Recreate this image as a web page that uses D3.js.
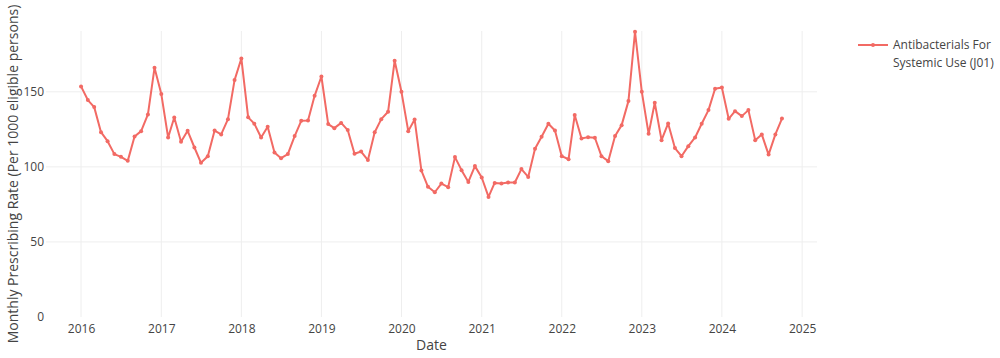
<!DOCTYPE html>
<html>
<head>
<meta charset="utf-8">
<script src="https://cdn.jsdelivr.net/npm/d3@7"></script>
<style>
  html, body { margin: 0; padding: 0; background: #fff; }
  svg { display: block; font-family: "Open Sans", "Noto Sans", sans-serif; }
</style>
</head>
<body>
<svg id="chart" width="1000" height="358"></svg>
<script>
const seriesName = "Antibacterials For Systemic Use (J01)";
const legendLines = ["Antibacterials For", "Systemic Use (J01)"];
const xTickYears = [2016, 2017, 2018, 2019, 2020, 2021, 2022, 2023, 2024, 2025];
const yTicks = [0, 50, 100, 150];
const xTitle = "Date";
const yTitle = "Monthly Prescribing Rate (Per 1000 eligible persons)";

const months = [
  "2016-01","2016-02","2016-03","2016-04","2016-05","2016-06","2016-07","2016-08","2016-09","2016-10","2016-11","2016-12",
  "2017-01","2017-02","2017-03","2017-04","2017-05","2017-06","2017-07","2017-08","2017-09","2017-10","2017-11","2017-12",
  "2018-01","2018-02","2018-03","2018-04","2018-05","2018-06","2018-07","2018-08","2018-09","2018-10","2018-11","2018-12",
  "2019-01","2019-02","2019-03","2019-04","2019-05","2019-06","2019-07","2019-08","2019-09","2019-10","2019-11","2019-12",
  "2020-01","2020-02","2020-03","2020-04","2020-05","2020-06","2020-07","2020-08","2020-09","2020-10","2020-11","2020-12",
  "2021-01","2021-02","2021-03","2021-04","2021-05","2021-06","2021-07","2021-08","2021-09","2021-10","2021-11","2021-12",
  "2022-01","2022-02","2022-03","2022-04","2022-05","2022-06","2022-07","2022-08","2022-09","2022-10","2022-11","2022-12",
  "2023-01","2023-02","2023-03","2023-04","2023-05","2023-06","2023-07","2023-08","2023-09","2023-10","2023-11","2023-12",
  "2024-01","2024-02","2024-03","2024-04","2024-05","2024-06","2024-07","2024-08","2024-09","2024-10"
];

const rates = [
  153.6, 144.5, 139.8, 123.1, 117.1, 108.5, 106.7, 104.0, 120.2, 123.8, 134.9, 166.0,
  148.5, 119.6, 132.9, 116.7, 124.0, 112.9, 102.7, 107.1, 124.2, 121.6, 131.8, 157.8,
  172.2, 133.0, 128.8, 119.6, 126.7, 109.6, 105.8, 108.5, 120.5, 130.7, 130.9, 147.3,
  160.2, 128.5, 125.8, 129.3, 124.5, 108.7, 110.2, 104.5, 123.1, 131.8, 136.7, 170.7,
  150.0, 123.8, 131.6, 97.5, 86.7, 83.1, 88.9, 86.5, 106.5, 97.8, 90.0, 100.5,
  92.9, 80.0, 89.3, 88.9, 89.6, 89.6, 98.5, 93.3, 112.0, 120.0, 128.7, 124.2,
  107.1, 105.1, 134.5, 118.9, 119.8, 119.4, 107.1, 103.8, 120.5, 127.8, 143.8, 190.0,
  150.0, 122.0, 142.7, 117.8, 128.9, 112.5, 107.1, 113.8, 119.6, 128.7, 137.8, 152.0,
  152.9, 132.0, 137.1, 133.8, 137.8, 117.8, 121.6, 108.2, 121.6, 132.2
];

const parse = d3.utcParse("%Y-%m");
const data = months.map((m, i) => ({ date: parse(m), value: rates[i] }));

const color = "#F26A64";
const gridColor = "#EEEEEE";
const textColor = "#444";

const plot = { left: 46, right: 817, top: 31, bottom: 317 };
const padFrac = 0.05;
const span = (plot.right - plot.left) / (1 + 2 * padFrac);
const pad = span * padFrac;

const svg = d3.select("#chart");

const x = d3.scaleUtc()
  .domain(d3.extent(data, d => d.date))
  .range([plot.left + pad, plot.right - pad]);

const y = d3.scaleLinear()
  .domain([0, 190.5])
  .range([plot.bottom, plot.top]);

// Grid lines
const grid = svg.append("g");
grid.selectAll("line.h").data(yTicks.filter(d => d > 0)).join("line")
  .attr("x1", plot.left).attr("x2", plot.right)
  .attr("y1", d => y(d)).attr("y2", d => y(d))
  .attr("stroke", gridColor).attr("stroke-width", 1);
grid.selectAll("line.v").data(xTickYears).join("line")
  .attr("x1", d => x(Date.UTC(d, 0, 1))).attr("x2", d => x(Date.UTC(d, 0, 1)))
  .attr("y1", plot.top).attr("y2", plot.bottom)
  .attr("stroke", gridColor).attr("stroke-width", 1);

// Axes
const xAxis = d3.axisBottom(x)
  .tickValues(xTickYears.map(yr => new Date(Date.UTC(yr, 0, 1))))
  .tickFormat(d3.utcFormat("%Y"))
  .tickSize(0).tickPadding(7);
const gx = svg.append("g").attr("transform", `translate(0,${plot.bottom})`).call(xAxis);
gx.select(".domain").remove();
gx.selectAll("text").attr("fill", textColor).style("font-size", "12px")
  .style("font-family", '"Open Sans", sans-serif');

const yAxis = d3.axisLeft(y).tickValues(yTicks).tickSize(0).tickPadding(2);
const gy = svg.append("g").attr("transform", `translate(${plot.left},0)`).call(yAxis);
gy.select(".domain").remove();
gy.selectAll("text").attr("fill", textColor).style("font-size", "12px")
  .style("font-family", '"Open Sans", sans-serif');

// Axis titles
svg.append("text")
  .attr("x", (plot.left + plot.right) / 2).attr("y", 350)
  .attr("text-anchor", "middle").attr("fill", textColor)
  .style("font-size", "14px").text(xTitle);
svg.append("text")
  .attr("transform", `translate(18,${(plot.top + plot.bottom) / 2}) rotate(-90)`)
  .attr("text-anchor", "middle").attr("fill", textColor)
  .style("font-size", "14px").text(yTitle);

// Line + markers
const line = d3.line().x(d => x(d.date)).y(d => y(d.value));
svg.append("path").datum(data)
  .attr("d", line).attr("fill", "none")
  .attr("stroke", color).attr("stroke-width", 2).attr("stroke-linejoin", "round");
svg.append("g").selectAll("circle").data(data).join("circle")
  .attr("cx", d => x(d.date)).attr("cy", d => y(d.value))
  .attr("r", 2).attr("fill", color);

// Legend
const lg = svg.append("g").attr("transform", "translate(853,45)");
lg.append("line").attr("x1", 5).attr("x2", 35).attr("y1", 0).attr("y2", 0)
  .attr("stroke", color).attr("stroke-width", 2);
lg.append("circle").attr("cx", 20).attr("cy", 0).attr("r", 2).attr("fill", color);
lg.selectAll("text").data(legendLines).join("text")
  .attr("x", 40).attr("y", (d, i) => i * 18)
  .attr("dy", "0.35em").attr("fill", textColor)
  .style("font-size", "12px").text(d => d);
</script>
</body>
</html>
